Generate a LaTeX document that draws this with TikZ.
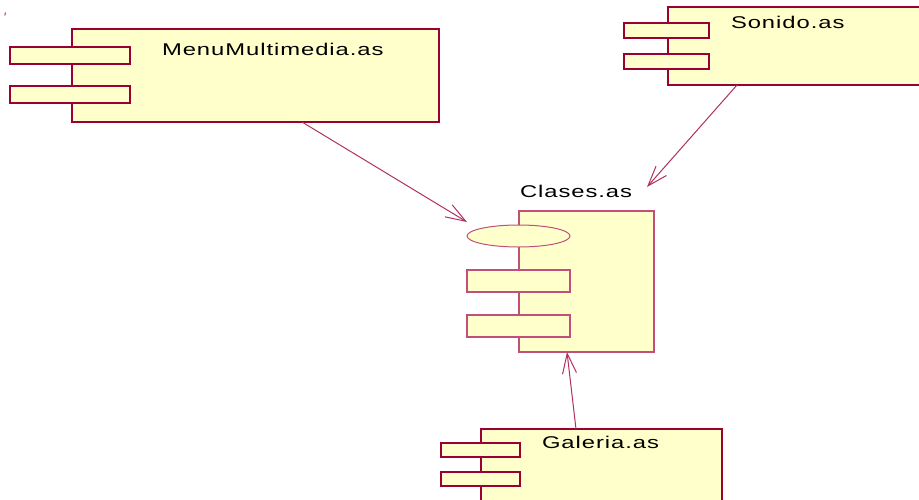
\documentclass[tikz,border=0pt]{standalone}
\usepackage{fontspec}
\usepackage{graphicx}
\usetikzlibrary{arrows.meta,calc,shapes.geometric}
\newfontfamily\labfont{Liberation Sans}[LetterSpace=4]
\definecolor{maroon}{HTML}{990033}
\definecolor{pinkline}{HTML}{C0507A}
\definecolor{arrowc}{HTML}{B03060}
\definecolor{compfill}{HTML}{FFFFCC}
\tikzset{
  thickbox/.style={draw=maroon,line width=2.4pt,fill=compfill,inner sep=0pt,outer sep=0pt,rectangle},
  thinbox/.style={draw=pinkline,line width=1.2pt,fill=compfill,inner sep=0pt,outer sep=0pt,rectangle},
  ifaceoval/.style={draw=pinkline,line width=1pt,fill=compfill,inner sep=0pt,outer sep=0pt,ellipse},
  deparrow/.style={draw=arrowc,line width=1pt,-{Straight Barb[length=20pt,width=14pt,line width=1pt]}},
  complabel/.style={anchor=base west,inner sep=0pt,outer sep=0pt,text=black,font=\fontsize{17}{20}\selectfont\labfont}
}
\newcommand{\wide}[1]{\scalebox{1.4}[1]{#1}}
\begin{document}
\begin{tikzpicture}[x=1pt,y=-1pt]
\useasboundingbox (0,0) rectangle (919,499);
\clip (0,0) rectangle (919,499);
\fill[white] (0,0) rectangle (919,499);
% stray mark
\draw[draw=arrowc,line width=1pt] (5.5,12.5) -- (4.8,15.5);
% MenuMultimedia.as
\node[thickbox,minimum width=367pt,minimum height=93pt] (menu) at (255.5,75.5) {};
\node[thickbox,minimum width=120pt,minimum height=17pt] (menup1) at (70,55.5) {};
\node[thickbox,minimum width=120pt,minimum height=17pt] (menup2) at (70,94.5) {};
\node[complabel] (menulab) at (162,55) {\wide{MenuMultimedia.as}};
% Sonido.as
\node[thickbox,minimum width=272pt,minimum height=78pt] (sonido) at (804,46) {};
\node[thickbox,minimum width=85pt,minimum height=15pt] (sonp1) at (666.5,30.5) {};
\node[thickbox,minimum width=85pt,minimum height=15pt] (sonp2) at (666.5,61.5) {};
\node[complabel] (sonlab) at (731,28) {\wide{Sonido.as}};
% Clases.as
\node[thinbox,minimum width=135pt,minimum height=141pt] (clases) at (586.5,281.5) {};
\node[ifaceoval,minimum width=103pt,minimum height=22pt] (iface) at (518.5,236) {};
\node[thinbox,minimum width=103pt,minimum height=22pt] (clap1) at (518.5,281) {};
\node[thinbox,minimum width=103pt,minimum height=22pt] (clap2) at (518.5,326) {};
\node[complabel] (clalab) at (520,197) {\wide{Clases.as}};
% Galeria.as
\node[thickbox,minimum width=241pt,minimum height=91pt] (galeria) at (601.5,474.5) {};
\node[thickbox,minimum width=79pt,minimum height=14pt] (galp1) at (480.5,450) {};
\node[thickbox,minimum width=79pt,minimum height=14pt] (galp2) at (480.5,479) {};
\node[complabel] (gallab) at (542,448) {\wide{Galeria.as}};
% connectors
\coordinate (menuout) at ($(menu.south west)+(230,0)$);
\coordinate (ifacein) at ($(iface.west)+(0,-14)$);
\coordinate (sonout) at ($(sonido.south west)+(69,0)$);
\coordinate (clasin) at ($(clases.north east)+(-7,-24)$);
\coordinate (galout) at ($(galeria.north west)+(95,0)$);
\coordinate (clasbot) at ($(clases.south west)+(48,0)$);
\draw[deparrow] (menuout) -- (ifacein);
\draw[deparrow] (sonout) -- (clasin);
\draw[deparrow] (galout) -- (clasbot);
\end{tikzpicture}
\end{document}
